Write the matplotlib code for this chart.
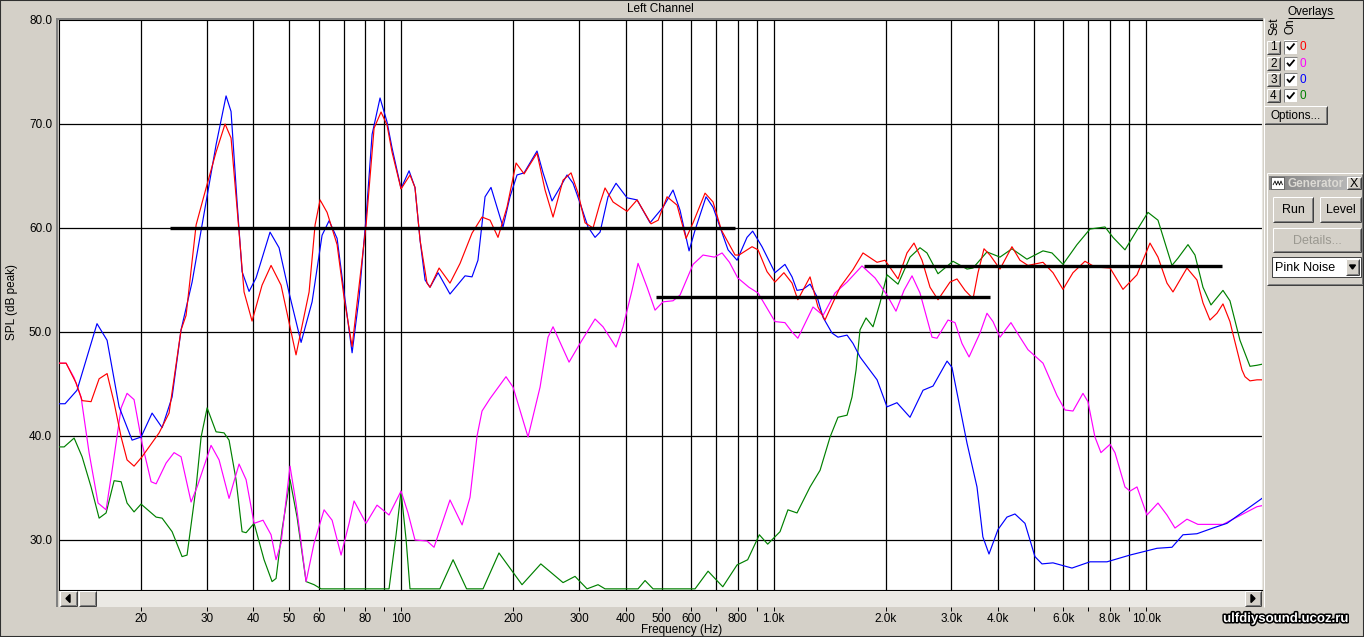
import matplotlib
matplotlib.use('Agg')
import matplotlib.pyplot as plt
import matplotlib.patheffects as pe
from matplotlib.patches import Rectangle, Polygon
from matplotlib.lines import Line2D
from matplotlib.ticker import NullLocator, NullFormatter, FixedLocator
import numpy as np

# ---- data (frequency in Hz, level in dB) ----
red_f = [12.04, 12.58, 13.38, 13.89, 14.68, 15.43, 16.21, 16.93, 17.68, 18.34, 19.15, 20.12, 22.36, 23.78,
         25.61, 26.42, 28.11, 29.90, 31.80, 33.62, 34.89, 36.21, 37.81, 39.73, 42.26, 44.68, 47.53, 52.14,
         56.53, 58.66, 60.50, 63.18, 67.21, 70.18, 73.75, 80.41, 84.49, 88.20, 91.53, 94.41, 99.82, 105.5,
         108.8, 112.3, 117.2, 119.4, 126.3, 135.1, 143.8, 154.8, 164.7, 173.1, 181.8, 192.2, 203.3, 213.6,
         231.4, 243.2, 255.5, 271.8, 285.6, 298.2, 311.4, 327.2, 341.7, 352.4, 370.3, 403.8, 429.6, 468.4,
         489.5, 517.1, 550.1, 581.6, 607.3, 654.0, 687.2, 723.6, 787.4, 807.1, 874.6, 907.6, 959.6, 1008,
         1065, 1120, 1161, 1252, 1315, 1373, 1507, 1633, 1737, 1894, 1990, 2157, 2280, 2381, 2502, 2629,
         2762, 2975, 3106, 3264, 3430, 3537, 3671, 3809, 4052, 4363, 4585, 4817, 5287, 5624, 5982, 6364,
         6853, 7290, 8004, 8669, 9454, 10245, 10764, 11380, 11810, 12333, 12878, 13697, 14218, 14847,
         15503, 16088, 16799, 17008, 18095, 18434, 19013, 19855, 20480]
red_db = [47.0, 47.0, 45.1, 43.4, 43.3, 45.5, 46.0, 43.2, 39.9, 37.7, 37.1, 38.0, 40.3, 42.2,
          50.2, 51.6, 60.3, 63.85, 67.3, 70.0, 68.65, 61.9, 53.85, 51.05, 54.5, 56.4, 54.5, 47.8,
          53.85, 60.3, 62.7, 61.5, 58.4, 53.3, 48.6, 60.3, 69.6, 71.15, 69.9, 67.3, 63.75, 65.1,
          63.9, 58.8, 54.7, 54.3, 56.15, 54.7, 56.6, 59.5, 61.05, 60.75, 59.1, 62.0, 66.25, 65.2,
          67.2, 63.65, 61.05, 64.6, 65.3, 63.35, 60.5, 60.0, 62.4, 63.85, 62.5, 61.6, 62.7, 60.4,
          60.75, 63.0, 62.2, 59.0, 60.5, 63.35, 62.5, 59.8, 57.4, 57.4, 58.2, 57.9, 55.8, 54.8,
          55.7, 54.7, 53.1, 55.3, 52.4, 51.15, 54.3, 56.0, 57.6, 56.7, 56.9, 55.1, 57.6, 58.55, 56.9, 54.3,
          53.1, 54.8, 55.1, 54.0, 53.2, 55.7, 58.0, 57.4, 56.05, 58.2, 56.9, 56.4, 56.7, 55.7, 54.1, 55.7,
          56.8, 56.25, 56.15, 54.1, 55.5, 58.55, 57.2, 54.7, 53.85, 55.0, 56.15, 55.0, 52.8, 51.15,
          51.8, 52.7, 51.0, 50.2, 46.35, 45.7, 45.3, 45.4, 45.4]

magenta_f = [12.04, 12.58, 13.22, 13.80, 14.50, 15.33, 16.11, 16.72, 17.68, 18.34, 19.15, 20.12, 21.28,
             21.95, 23.35, 24.53, 25.61, 27.25, 28.28, 30.83, 32.40, 34.46, 36.66, 38.29, 40.23, 42.52,
             44.68, 46.08, 47.53, 50.24, 52.14, 55.49, 58.30, 62.02, 65.17, 68.89, 72.39, 74.65, 80.41,
             86.04, 92.67, 99.82, 104.2, 108.8, 117.2, 122.4, 135.1, 145.6, 152.9, 159.7, 164.7, 173.1,
             191.0, 199.5, 218.9, 235.8, 247.7, 255.5, 282.1, 301.9, 331.3, 348.0, 377.2, 393.9, 416.4,
             432.2, 457.0, 480.1, 504.4, 536.6, 560.4, 607.3, 646.0, 692.8, 726.7, 760.6, 800.6, 858.0,
             907.6, 959.6, 1008, 1072, 1120, 1161, 1275, 1357, 1461, 1574, 1726, 1871, 2015, 2130, 2238,
             2352, 2471, 2662, 2745, 2939, 3068, 3203, 3347, 3581, 3739, 3881, 4052, 4336, 4585, 4817,
             5287, 5763, 6057, 6364, 6769, 6981, 7290, 7565, 8004, 8250, 8777, 9053, 9454, 10056, 10764,
             11380, 11957, 12878, 13782, 16088, 17543, 19855, 20480]
magenta_db = [47.0, 47.0, 45.6, 43.75, 38.4, 33.55, 32.9, 36.7, 42.7, 44.1, 43.5, 39.3, 35.6,
              35.4, 37.4, 38.4, 38.0, 33.65, 35.1, 39.1, 37.7, 34.0, 37.3, 35.8, 31.6, 31.9,
              30.5, 28.1, 29.7, 37.1, 33.55, 26.0, 29.7, 32.9, 31.9, 28.55, 31.6, 33.75, 31.6,
              33.35, 32.4, 34.7, 32.6, 30.0, 29.9, 29.3, 33.85, 31.45, 34.1, 40.0, 42.4, 43.6,
              45.7, 44.7, 39.9, 44.7, 49.5, 50.5, 47.1, 48.9, 51.25, 50.5, 48.55, 50.5, 54.0,
              56.6, 54.3, 52.1, 52.9, 53.0, 53.55, 56.5, 57.4, 57.2, 57.6, 56.7, 55.2, 54.3,
              53.75, 52.3, 51.0, 50.9, 50.0, 49.4, 52.4, 51.6, 53.75, 54.8, 56.35, 55.2, 53.55, 52.0, 54.0,
              55.4, 53.75, 49.5, 49.4, 51.15, 50.9, 48.9, 47.6, 49.9, 51.8, 51.0, 49.5, 50.9, 49.5, 48.3,
              47.0, 43.9, 42.5, 42.4, 44.1, 43.3, 39.9, 38.4, 39.2, 38.4, 35.1, 34.7, 35.1, 32.4, 33.55,
              32.4, 31.15, 32.0, 31.5, 31.5, 32.2, 33.2, 33.3]

blue_f = [12.04, 12.50, 13.46, 14.32, 15.23, 16.21, 17.46, 18.92, 20.0, 21.41, 22.78, 24.23, 25.61, 27.42,
          29.90, 31.80, 33.83, 34.89, 36.21, 37.35, 39.00, 40.72, 44.40, 46.95, 49.92, 53.80, 57.59, 61.25,
          63.97, 67.21, 70.18, 73.75, 77.0, 80.41, 83.45, 87.66, 91.53, 94.41, 99.82, 104.9, 108.8, 112.3,
          115.8, 119.4, 125.5, 135.1, 148.3, 154.8, 160.6, 167.8, 174.1, 180.7, 187.5, 195.8, 204.5, 213.6,
          231.4, 240.2, 253.9, 266.8, 278.6, 289.2, 301.9, 317.2, 331.3, 341.7, 359.0, 377.2, 403.8, 429.6,
          465.5, 504.4, 536.6, 560.4, 592.5, 614.9, 658.1, 687.2, 717.6, 754.0, 797.2, 847.9, 878.1, 930.3,
          1008, 1072, 1120, 1155, 1198, 1252, 1307, 1357, 1434, 1488, 1574, 1633, 1705, 1895, 2015, 2143,
          2323, 2518, 2678, 2921, 3011, 3305, 3515, 3645, 3786, 4002, 4230, 4445, 4729, 5030, 5254, 5624,
          6324, 7070, 7855, 9053, 10698, 11737, 12564, 13697, 15125, 16491, 18207, 19855, 20480]
blue_db = [43.1, 43.1, 44.4, 47.6, 50.8, 49.2, 42.8, 39.6, 39.9, 42.2, 40.8, 43.75, 50.2, 54.8,
           62.5, 68.0, 72.7, 71.2, 62.5, 55.8, 53.9, 55.2, 59.6, 58.1, 53.8, 49.0, 52.9, 59.3,
           60.7, 59.0, 53.8, 48.0, 53.3, 61.0, 69.0, 72.5, 70.2, 67.7, 63.8, 65.5, 63.9, 58.8,
           55.0, 54.3, 55.7, 53.65, 55.4, 55.3, 56.9, 63.0, 63.9, 62.0, 60.1, 63.0, 65.1, 65.3,
           67.4, 65.3, 62.6, 63.9, 65.1, 64.3, 62.4, 60.1, 59.1, 59.6, 63.0, 64.3, 62.9, 62.7,
           60.5, 62.0, 63.65, 61.7, 57.8, 59.8, 63.0, 62.0, 60.1, 57.9, 56.9, 59.1, 59.7, 58.2,
           55.7, 56.5, 55.3, 54.0, 54.1, 54.6, 53.4, 51.4, 49.9, 49.5, 49.7, 48.9, 47.6, 45.4, 42.8, 43.2,
           41.8, 44.4, 44.8, 47.2, 46.6, 39.3, 35.1, 30.3, 28.65, 31.0, 32.2, 32.5, 31.6, 28.4, 27.7, 27.8,
           27.3, 27.9, 27.9, 28.55, 29.2, 29.3, 30.5, 30.6, 31.15, 31.6, 32.7, 33.65, 34.0]

green_f = [12.04, 12.43, 13.22, 13.89, 14.68, 15.43, 16.11, 16.93, 17.68, 18.34, 19.15, 20.0, 21.95, 22.78,
           24.23, 25.77, 26.58, 28.11, 28.99, 30.09, 31.80, 33.41, 34.46, 35.98, 37.35, 38.29, 40.23, 42.79,
           44.96, 46.08, 47.83, 50.24, 52.47, 55.49, 58.30, 60.88, 92.67, 96.8, 99.82, 103.0, 105.5, 126.9,
           137.7, 149.7, 165.7, 182.9, 210.9, 236.9, 271.8, 292.7, 315.3, 337.5, 352.4, 432.2, 451.3, 474.2,
           614.9, 666.4, 729.9, 797.2, 851.3, 915.1, 963.5, 1040, 1092, 1155, 1252, 1332, 1417, 1488, 1574,
           1623, 1664, 1705, 1770, 1848, 1930, 2015, 2157, 2323, 2471, 2580, 2762, 3030, 3305, 3430, 3739,
           4052, 4363, 4787, 5287, 5589, 5982, 6523, 7070, 7757, 8149, 8777, 9454, 10118, 10764, 11737,
           12181, 12958, 13531, 14218, 14939, 16088, 16799, 17872, 19013, 19855, 20480]
green_db = [38.95, 38.95, 39.8, 38.0, 35.1, 32.1, 32.6, 35.7, 35.6, 33.55, 32.7, 33.45, 32.2, 32.1,
            30.8, 28.4, 28.55, 35.1, 39.9, 42.7, 40.4, 40.3, 39.6, 35.8, 30.8, 30.7, 31.6, 28.1,
            26.0, 26.3, 31.0, 35.8, 32.2, 26.0, 25.7, 25.3, 25.3, 30.5, 34.7, 30.0, 25.3, 25.3,
            28.1, 25.3, 25.3, 28.75, 25.7, 27.7, 25.9, 26.5, 25.3, 25.7, 25.3, 25.3, 26.1, 25.3,
            25.3, 27.0, 25.5, 27.6, 28.1, 30.5, 29.6, 30.8, 32.9, 32.6, 35.1, 36.7, 39.9, 41.8, 42.0,
            43.75, 46.35, 50.2, 51.35, 50.5, 52.8, 55.5, 54.6, 57.2, 58.1, 57.6, 55.6, 56.8, 56.05, 56.15, 57.7,
            57.2, 58.0, 57.0, 57.8, 57.6, 56.5, 58.4, 59.9, 60.1, 59.1, 57.9, 59.8, 61.5, 60.75, 56.4,
            57.1, 58.4, 57.4, 54.3, 52.6, 54.0, 53.0, 49.2, 46.7, 46.8, 46.9]

# target lines (start Hz, end Hz, level dB)
target_start = [23.9, 483, 1748]
target_end = [787, 3809, 15990]
target_db = [60.0, 53.35, 56.35]

y_ticks = [30, 40, 50, 60, 70, 80]
x_labeled = [20, 30, 40, 50, 60, 80, 100, 200, 300, 400, 500, 600, 800,
             1000, 2000, 3000, 4000, 6000, 8000, 10000]
x_labels = ['20', '30', '40', '50', '60', '80', '100', '200', '300', '400', '500', '600', '800',
            '1.0k', '2.0k', '3.0k', '4.0k', '6.0k', '8.0k', '10.0k']
x_unlabeled = [70, 90, 700, 900, 5000, 7000, 9000]
grid_f = [m * 10 ** e for e in (1, 2, 3) for m in range(1, 10) if m * 10 ** e >= 20] + [10000]

W, H = 1364, 637
BG = '#d4d0c8'
plt.rcParams['font.family'] = ['Liberation Sans', 'DejaVu Sans']

fig = plt.figure(figsize=(W / 100, H / 100), dpi=100, facecolor=BG)


def fx(x):
    return x / W


def fy(y):
    return 1 - y / H


def box(x0, y0, x1, y1, z=1, **kw):
    fig.patches.append(Rectangle((fx(x0), fy(y1)), (x1 - x0) / W, (y1 - y0) / H,
                                 transform=fig.transFigure, zorder=z, **kw))


def line(xs, ys, color, lw=1.0, z=2):
    fig.add_artist(Line2D([fx(v) for v in xs], [fy(v) for v in ys], transform=fig.transFigure,
                          color=color, lw=lw * 0.72, solid_capstyle='butt', zorder=z))


def button(x0, y0, x1, y1, text=None, color='black', size=8.5, z=1):
    box(x0, y0, x1, y1, z=z, facecolor=BG, edgecolor='none')
    line([x0, x1], [y0, y0], 'white', z=z + 0.1)
    line([x0, x0], [y0, y1], 'white', z=z + 0.1)
    line([x0, x1], [y1, y1], '#404040', z=z + 0.1)
    line([x1, x1], [y0, y1], '#404040', z=z + 0.1)
    line([x0 + 1, x1 - 1], [y1 - 1, y1 - 1], '#808080', z=z + 0.1)
    line([x1 - 1, x1 - 1], [y0 + 1, y1 - 1], '#808080', z=z + 0.1)
    if text:
        fig.text(fx((x0 + x1) / 2), fy((y0 + y1) / 2 + 0.5), text, ha='center', va='center',
                 fontsize=size, color=color, zorder=z + 2)


# ---- main plot ----
ax = fig.add_axes([fx(59), fy(590), (1262 - 59) / W, (590 - 20) / H])
ax.set_facecolor('white')
ax.set_xscale('log')
ax.set_xlim(12.04, 20480)
ax.set_ylim(25.19, 80)
for f in grid_f:
    ax.axvline(f, color='black', lw=0.9, zorder=1)
for v in y_ticks[:-1]:
    ax.axhline(v, color='black', lw=0.9, zorder=1)

ax.plot(green_f, green_db, color='#008000', lw=0.85, zorder=3)
ax.plot(magenta_f, magenta_db, color='#ff00ff', lw=0.85, zorder=3)
ax.plot(blue_f, blue_db, color='#0000ff', lw=0.85, zorder=3)
ax.plot(red_f, red_db, color='#ff0000', lw=0.85, zorder=3)
for a, b, v in zip(target_start, target_end, target_db):
    ax.plot([a, b], [v, v], color='black', lw=2.4, solid_capstyle='butt', zorder=4)

ax.xaxis.set_major_locator(NullLocator())
ax.xaxis.set_minor_locator(NullLocator())
ax.set_yticks(y_ticks)
ax.set_yticklabels(['%.1f' % v for v in y_ticks])
ax.tick_params(axis='y', length=0, pad=5, labelsize=8.5)
for s in ['top', 'left', 'bottom']:
    ax.spines[s].set_color('black')
    ax.spines[s].set_linewidth(0.8)
ax.spines['right'].set_color('#e8e6e0')

# sunken frame around plot
line([56.5, 56.5], [18, 607], '#808080', 2)
line([56, 1263], [18.5, 18.5], '#808080', 2)
line([1263.5, 1263.5], [18, 607], 'white', 1)

# scrollbar
box(59, 591, 1262, 607, facecolor='#ebe9e4', edgecolor='none')
button(60, 591, 77, 606)
button(79, 591, 96, 606)
button(1245, 591, 1261, 606)
fig.patches.append(Polygon([(fx(66), fy(598.5)), (fx(70), fy(594.5)), (fx(70), fy(602.5))],
                           closed=True, transform=fig.transFigure, color='black', zorder=3))
fig.patches.append(Polygon([(fx(1255), fy(598.5)), (fx(1251), fy(594.5)), (fx(1251), fy(602.5))],
                           closed=True, transform=fig.transFigure, color='black', zorder=3))

# frequency tick axis below scrollbar
tax = fig.add_axes([fx(59), fy(607), (1262 - 59) / W, 0.0001])
tax.set_xscale('log')
tax.set_xlim(12.04, 20480)
tax.patch.set_visible(False)
for s in tax.spines.values():
    s.set_visible(False)
tax.set_yticks([])
tax.xaxis.set_major_locator(FixedLocator(x_labeled))
tax.set_xticklabels(x_labels)
tax.xaxis.set_minor_locator(FixedLocator(x_unlabeled))
tax.xaxis.set_minor_formatter(NullFormatter())
tax.tick_params(axis='x', which='both', length=3, width=0.7, pad=1.5, labelsize=8.5, color='black')

# texts
fig.text(fx(660), fy(9), 'Left Channel', ha='center', va='center', fontsize=8.5)
fig.text(fx(682), fy(630), 'Frequency (Hz)', ha='center', va='center', fontsize=8.5)
fig.text(fx(12), fy(302), 'SPL (dB peak)', ha='center', va='center', fontsize=8.5, rotation=90)

# overlays panel
fig.text(fx(1311), fy(12.5), 'Overlays', ha='center', va='center', fontsize=8.5)
line([1288, 1334], [18, 18], 'black')
fig.text(fx(1274), fy(26), 'Set', ha='center', va='center', fontsize=8.5, rotation=90)
fig.text(fx(1291), fy(26), 'On', ha='center', va='center', fontsize=8.5, rotation=90)
overlay_colors = ['#ff0000', '#ff00ff', '#0000ff', '#008000']
for i, c in enumerate(overlay_colors):
    yc = 47 + i * 16.3
    button(1267, yc - 6.5, 1280, yc + 6.5, str(i + 1))
    box(1284, yc - 6.5, 1297, yc + 6.5, facecolor='white', edgecolor='none')
    line([1284, 1297], [yc - 6.5, yc - 6.5], '#808080')
    line([1284, 1284], [yc - 6.5, yc + 6.5], '#808080')
    line([1287, 1289.5, 1294.5], [yc - 0.5, yc + 2.5, yc - 3.5], 'black', 1.8)
    fig.text(fx(1303), fy(yc + 0.5), '0', ha='center', va='center', fontsize=8.5, color=c)
button(1264, 106, 1327, 124, 'Options...')

# generator panel
button(1267, 173, 1363, 285)
gax = fig.add_axes([fx(1269), fy(190), (1361 - 1269) / W, 14 / H])
gax.imshow(np.linspace(0.5, 0.75, 64)[None, :], cmap='gray', vmin=0, vmax=1, aspect='auto')
gax.set_axis_off()
gax.set_zorder(5)
box(1271, 177, 1284, 189, z=6, facecolor='white', edgecolor='#404040', lw=0.5)
line([1273, 1275, 1276.5, 1278, 1279.5, 1281, 1282.5], [185, 181, 185, 181, 185, 181, 185],
     'black', 0.8, z=7)
fig.text(fx(1287), fy(183.5), 'Generator', ha='left', va='center', fontsize=8.5,
         fontweight='bold', color='#dcdad4', zorder=7)
button(1347, 177, 1361, 189, 'X', size=9, z=6)
button(1273, 197, 1313, 222, 'Run', size=9)
button(1320, 197, 1361, 222, 'Level', size=9)
button(1273, 228, 1361, 252, 'Details...', color='#9a9890', size=9)
box(1272, 257, 1361, 277, facecolor='white', edgecolor='#404040', lw=0.7)
fig.text(fx(1275), fy(268), 'Pink Noise', ha='left', va='center', fontsize=9)
button(1346, 259, 1359, 275, z=2)
fig.patches.append(Polygon([(fx(1349.5), fy(265)), (fx(1355.5), fy(265)), (fx(1352.5), fy(269))],
                           closed=True, transform=fig.transFigure, color='black', zorder=4))

# watermark
fig.text(fx(1286), fy(619), 'ulfdiysound.ucoz.ru', ha='center', va='center', fontsize=9.5,
         fontweight='bold', color='white',
         path_effects=[pe.withStroke(linewidth=2.2, foreground='black')])

# outer border
fig.patches.append(Rectangle((0, 0), 1, 1, transform=fig.transFigure, fill=False,
                             edgecolor='#303030', lw=1.5, zorder=10))

fig.savefig('out.png', dpi=100, facecolor=BG)
